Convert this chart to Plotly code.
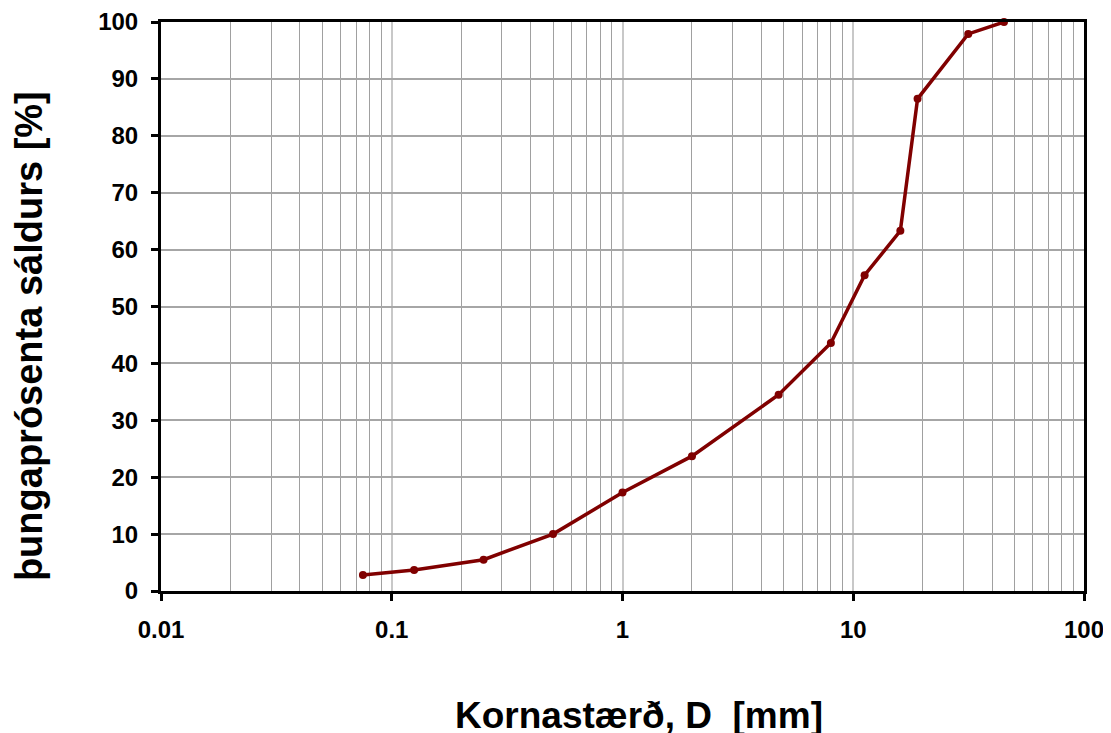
import plotly.graph_objects as go

grain_size_mm = [0.075, 0.125, 0.25, 0.5, 1.0, 2.0, 4.75, 8.0, 11.2, 16.0, 19.0, 31.5, 45.0]
passing_pct = [2.8, 3.7, 5.5, 10.0, 17.3, 23.7, 34.5, 43.6, 55.5, 63.3, 86.5, 97.9, 100.0]

x_ticks = [0.01, 0.1, 1, 10, 100]
x_tick_labels = ["0.01", "0.1", "1", "10", "100"]
y_ticks = list(range(0, 101, 10))

FONT = "Liberation Sans, Arial, sans-serif"

fig = go.Figure()
fig.add_trace(go.Scatter(
    x=grain_size_mm, y=passing_pct, mode="lines+markers",
    line=dict(color="#800000", width=3.5),
    marker=dict(color="#800000", size=8),
    showlegend=False, cliponaxis=False,
))

fig.update_layout(
    width=1103, height=725,
    margin=dict(l=153, r=27, t=14, b=142),
    paper_bgcolor="white", plot_bgcolor="white",
    font=dict(family=FONT, color="black"),
    xaxis=dict(
        type="log", range=[-2, 2], automargin=False,
        tickvals=x_ticks, ticktext=x_tick_labels,
        tickfont=dict(size=24, family=FONT, weight="bold"),
        ticks="outside", ticklen=7, tickwidth=3, tickcolor="black",
        ticklabelstandoff=8,
        showgrid=True, gridcolor="#c8c8c8", gridwidth=2,
        minor=dict(dtick="D1", showgrid=True, gridcolor="#a0a0a0", gridwidth=1, ticks=""),
        showline=True, linecolor="black", linewidth=3, mirror=True,
        zeroline=False,
    ),
    yaxis=dict(
        range=[0, 100], automargin=False,
        tickvals=y_ticks,
        tickfont=dict(size=24, family=FONT, weight="bold"),
        ticks="outside", ticklen=7, tickwidth=3, tickcolor="black",
        ticklabelstandoff=8,
        showgrid=True, gridcolor="#a6a6a6", gridwidth=1.5,
        showline=True, linecolor="black", linewidth=3, mirror=True,
        zeroline=False,
    ),
    annotations=[
        dict(text="Kornastærð, D\u00a0\u00a0[mm]", xref="paper", yref="paper",
             x=0.518, y=-0.218, xanchor="center", yanchor="middle", showarrow=False,
             font=dict(size=37, family=FONT, weight="bold")),
        dict(text="þungaprósenta sáldurs [%]", xref="paper", yref="paper",
             x=-0.143, y=0.448, xanchor="center", yanchor="middle", showarrow=False,
             textangle=-90,
             font=dict(size=38, family=FONT, weight="bold")),
    ],
)

fig.write_html("out.html")
